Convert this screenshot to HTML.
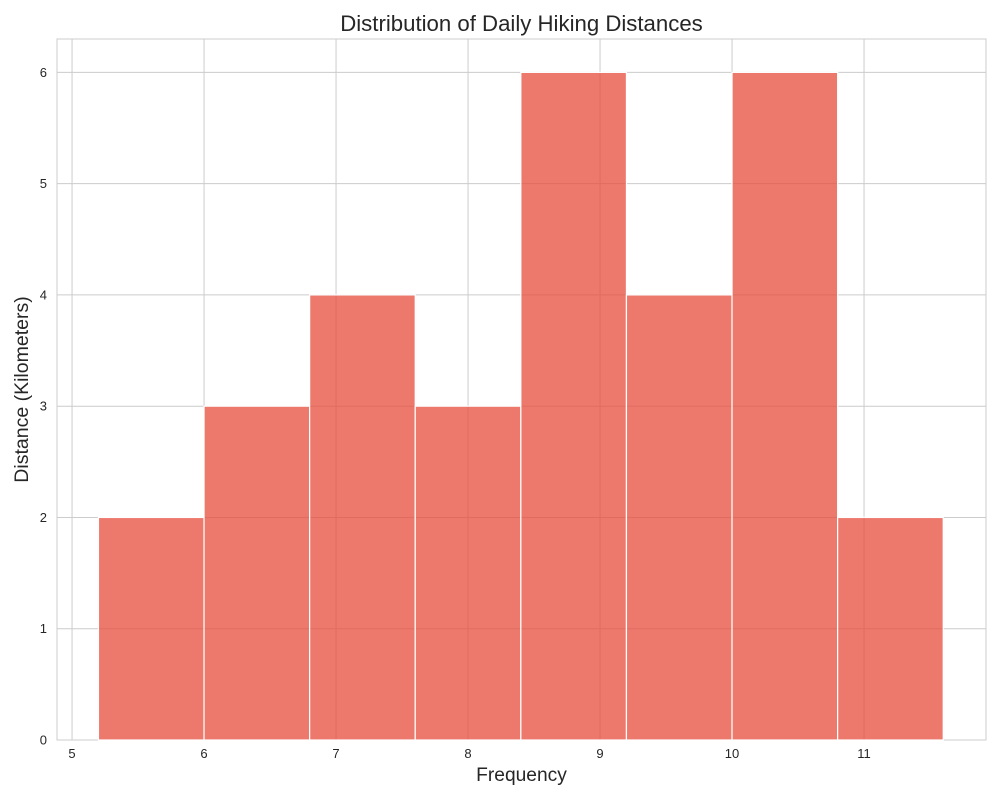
<!DOCTYPE html>
<html><head><meta charset="utf-8"><style>
html,body{margin:0;padding:0;background:#fff;}
text{font-family:"Liberation Sans",Arial,sans-serif;fill:#262626;}
</style></head><body>
<svg id="chart" width="1000" height="800" xmlns="http://www.w3.org/2000/svg"></svg>
<script>
const binEdges = [5.2, 6.0, 6.8, 7.6, 8.4, 9.2, 10.0, 10.8, 11.6];
const counts = [2, 3, 4, 3, 6, 4, 6, 2];
const xTicks = [5, 6, 7, 8, 9, 10, 11];
const yTicks = [0, 1, 2, 3, 4, 5, 6];

const L = 57, R = 986, T = 39, B = 740;
const xMin = 4.886, xMax = 11.924, yMin = 0, yMax = 6.3;
const xs = v => L + (v - xMin) / (xMax - xMin) * (R - L);
const ys = v => B - (v - yMin) / (yMax - yMin) * (B - T);
const NS = "http://www.w3.org/2000/svg";
const svg = document.getElementById('chart');
function mk(tag, attrs, parent) {
  const e = document.createElementNS(NS, tag);
  for (const k in attrs) e.setAttribute(k, attrs[k]);
  (parent || svg).appendChild(e);
  return e;
}
const frame = mk('rect', {x: L, y: T, width: R - L, height: B - T, fill: '#fff', stroke: '#cccccc', 'stroke-width': 1});



const grid = mk('g', {});


xTicks.forEach(t => {
  mk('line', {x1: xs(t), x2: xs(t), y1: T, y2: B, stroke: '#cccccc', 'stroke-width': 1}, grid);
  const lb = mk('text', {x: xs(t), y: B + 18, 'text-anchor': 'middle', 'font-size': 13});
  lb.textContent = t;
  
  
});
yTicks.forEach(t => {
  mk('line', {x1: L, x2: R, y1: ys(t), y2: ys(t), stroke: '#cccccc', 'stroke-width': 1}, grid);
  const lb = mk('text', {x: L - 10, y: ys(t) + 4.5, 'text-anchor': 'end', 'font-size': 13});
  lb.textContent = t;
  
  
});

const bars = mk('g', {});


counts.forEach((c, i) => {
  const x0 = xs(binEdges[i]), x1 = xs(binEdges[i + 1]);
  const r = mk('rect', {x: x0, y: ys(c), width: x1 - x0, height: ys(0) - ys(c), fill: '#e74c3c', 'fill-opacity': 0.75, stroke: '#ffffff', 'stroke-width': 1.2}, bars);
  
  
});

const title = mk('text', {x: (L + R) / 2, y: 31, 'text-anchor': 'middle', 'font-size': 22.2});
title.textContent = 'Distribution of Daily Hiking Distances';


const xl = mk('text', {x: (L + R) / 2, y: 781, 'text-anchor': 'middle', 'font-size': 19.2});
xl.textContent = 'Frequency';


const yl = mk('text', {x: 0, y: 0, 'text-anchor': 'middle', 'font-size': 19.5, transform: `translate(28,${(T + B) / 2}) rotate(-90)`});
yl.textContent = 'Distance (Kilometers)';


</script>
</body></html>
